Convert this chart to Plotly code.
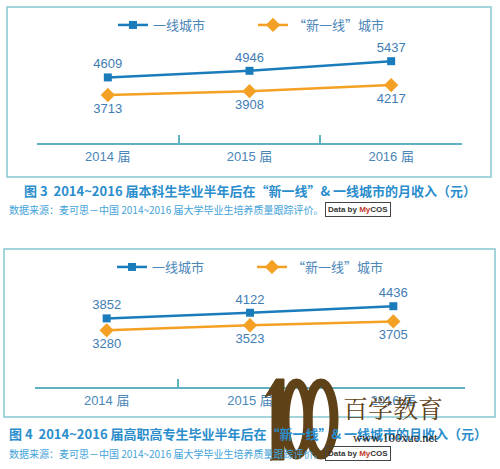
import plotly.graph_objects as go

categories = ["2014 届", "2015 届", "2016 届"]
series_names = ["一线城市", "“新一线”城市"]
tier1_bachelor = [4609, 4946, 5437]
newtier1_bachelor = [3713, 3908, 4217]
tier1_vocational = [3852, 4122, 4436]
newtier1_vocational = [3280, 3523, 3705]

caption1 = "图 3  2014~2016 届本科生毕业半年后在“新一线”& 一线城市的月收入（元）"
caption2 = "图 4  2014~2016 届高职高专生毕业半年后在“新一线”& 一线城市的月收入（元）"
source = "数据来源：麦可思－中国 2014~2016 届大学毕业生培养质量跟踪评价。"

W, H = 500, 469
BLUE = "#1b7cbc"
ORANGE = "#f4a024"
LABEL = "#3f7db5"
TEAL = "#5fb0c0"
BORDER = "#86c8d2"
CAP = "#2a8dcc"
SRC = "#43a3d8"
BROWN = "#5f4217"
FONT = "Liberation Sans, Noto Sans CJK SC, sans-serif"
CJK = "Noto Sans CJK SC, Liberation Sans, sans-serif"


def px(x):
    return x / W


def py(y):
    return 1 - y / H


fig = go.Figure()

panels = [
    (tier1_bachelor, newtier1_bachelor, "x", "y", "legend"),
    (tier1_vocational, newtier1_vocational, "x2", "y2", "legend2"),
]
for blue_vals, orange_vals, xa, ya, lg in panels:
    fig.add_trace(go.Scatter(
        x=categories, y=blue_vals, name=series_names[0], xaxis=xa, yaxis=ya,
        legend=lg, mode="lines+markers+text", text=[str(v) for v in blue_vals],
        textposition="top center", textfont=dict(color=LABEL, size=13, family=FONT),
        line=dict(color=BLUE, width=2.5),
        marker=dict(symbol="square", size=8, color=BLUE),
    ))
    fig.add_trace(go.Scatter(
        x=categories, y=orange_vals, name=series_names[1], xaxis=xa, yaxis=ya,
        legend=lg, mode="lines+markers+text", text=[str(v) for v in orange_vals],
        textposition="bottom center", textfont=dict(color=LABEL, size=13, family=FONT),
        line=dict(color=ORANGE, width=2.5),
        marker=dict(symbol="diamond", size=11, color=ORANGE),
    ))

xcommon = dict(
    type="category", range=[-0.5, 2.5], tickson="boundaries", ticks="inside",
    ticklen=8, tickwidth=1.5, tickcolor=TEAL, showline=True, linecolor=TEAL,
    linewidth=2, showgrid=False, zeroline=False, fixedrange=True,
    tickfont=dict(color="#4a86b8", size=13, family=FONT),
)
ycommon = dict(visible=False, showgrid=False, zeroline=False, fixedrange=True)

legcommon = dict(
    orientation="h", xanchor="left", yanchor="middle", bgcolor="rgba(0,0,0,0)",
    font=dict(color="#4a86b8", size=13, family=CJK), entrywidth=95,
    itemwidth=30,
)

fig.update_layout(
    width=W, height=H, margin=dict(l=0, r=0, t=0, b=0),
    paper_bgcolor="white", plot_bgcolor="rgba(0,0,0,0)",
    font=dict(family=FONT),
    xaxis=dict(domain=[px(37), px(462)], anchor="y", **xcommon),
    yaxis=dict(domain=[py(143), py(40)], range=[1265, 6518], anchor="x", **ycommon),
    xaxis2=dict(domain=[px(35), px(465)], anchor="y2", **xcommon),
    yaxis2=dict(domain=[py(387), py(280)], range=[558, 5694], anchor="x2", **ycommon),
    legend=dict(x=px(113), y=py(25), **legcommon),
    legend2=dict(x=px(112), y=py(267), **legcommon),
)

shapes = []
for (x0, y0, x1, y1) in [(7, 7, 491, 177), (4, 249, 495, 417)]:
    shapes.append(dict(type="rect", xref="paper", yref="paper",
                       x0=px(x0), x1=px(x1), y0=py(y1), y1=py(y0),
                       line=dict(color=BORDER, width=1.5)))

# watermark "100" drawn as decoration
one = [(270, 460), (284, 460), (284, 379), (276, 379), (265, 397), (272, 394), (272, 460)]
path = "M " + " L ".join(f"{px(a):.5f} {py(b):.5f}" for a, b in one) + " Z"
shapes.append(dict(type="path", xref="paper", yref="paper", path=path,
                   fillcolor=BROWN, line=dict(color=BROWN, width=1)))
for (cx0, cx1) in [(285, 308), (308, 334)]:
    shapes.append(dict(type="circle", xref="paper", yref="paper",
                       x0=px(cx0), x1=px(cx1), y0=py(455), y1=py(383),
                       line=dict(color=BROWN, width=9)))
fig.update_layout(shapes=shapes)

ann = []
for cap, cx, cy, sy in [(caption1, 22, 190, 210), (caption2, 7, 433, 453)]:
    ann.append(dict(text="<b>" + cap + "</b>", x=px(cx), y=py(cy), xref="paper", yref="paper",
                    xanchor="left", yanchor="middle", showarrow=False,
                    font=dict(color=CAP, size=13, family=CJK)))
    ann.append(dict(text=source, x=px(7), y=py(sy), xref="paper", yref="paper",
                    xanchor="left", yanchor="middle", showarrow=False,
                    font=dict(color=SRC, size=10, family=CJK)))
    ann.append(dict(text="<b>Data by <span style='color:#c0392b'>My</span>COS</b>",
                    x=px(358), y=py(sy), xref="paper", yref="paper",
                    xanchor="center", yanchor="middle", showarrow=False,
                    bordercolor="#444444", borderwidth=1, borderpad=2,
                    font=dict(color="#333333", size=8, family=FONT)))

ann.append(dict(text="百学教育", x=px(393), y=py(407), xref="paper", yref="paper",
                xanchor="center", yanchor="middle", showarrow=False,
                font=dict(color=BROWN, size=25, family="Noto Serif CJK SC, Noto Sans CJK SC")))
ann.append(dict(text="www.100xue.net", x=px(395), y=py(438), xref="paper", yref="paper",
                xanchor="center", yanchor="middle", showarrow=False,
                font=dict(color="#2e2210", size=12.5, family="Liberation Serif, DejaVu Serif, serif")))
fig.update_layout(annotations=ann)

fig.write_html("out.html")
